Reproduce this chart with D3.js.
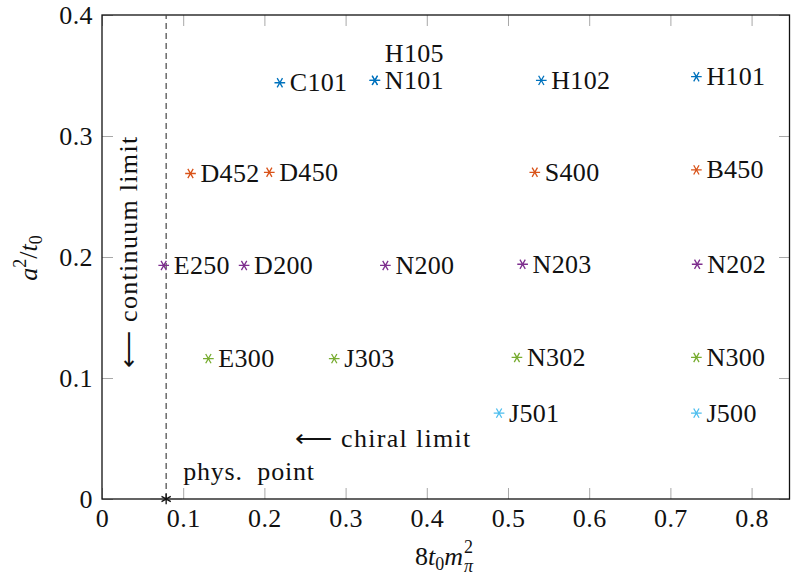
<!DOCTYPE html>
<html>
<head>
<meta charset="utf-8">
<script src="https://cdn.jsdelivr.net/npm/d3@7"></script>
<style>
  body { margin: 0; background: #fff; }
</style>
</head>
<body>
<svg id="chart"></svg>
<script>
// ensembles, grouped by lattice spacing
const ensembles = ["C101", "N101", "H105", "H102", "H101",
                   "D452", "D450", "S400", "B450",
                   "E250", "D200", "N200", "N203", "N202",
                   "E300", "J303", "N302", "N300",
                   "J501", "J500"];
const mpiSq = [0.219, 0.336, 0.336, 0.541, 0.732,
               0.109, 0.206, 0.533, 0.732,
               0.076, 0.175, 0.349, 0.518, 0.733,
               0.131, 0.286, 0.511, 0.732,
               0.489, 0.732];
const aSq = [0.344, 0.346, 0.346, 0.346, 0.349,
             0.269, 0.270, 0.270, 0.272,
             0.193, 0.193, 0.193, 0.194, 0.194,
             0.116, 0.116, 0.117, 0.117,
             0.071, 0.071];
const group = [0, 0, 0, 0, 0,
               1, 1, 1, 1,
               2, 2, 2, 2, 2,
               3, 3, 3, 3,
               4, 4];
const groupColors = ["#0072BD", "#D95319", "#7E2F8E", "#77AC30", "#4DBEEE"];

// physical point
const physX = 0.079, physY = 0, physXErr = 0.0195;

const xTicks = [0, 0.1, 0.2, 0.3, 0.4, 0.5, 0.6, 0.7, 0.8];
const yTicks = [0, 0.1, 0.2, 0.3, 0.4];

const width = 791, height = 581;
const margin = { top: 15, right: 1, bottom: 82, left: 102 };
const fs = 26;
const serif = "'Liberation Serif', 'Times New Roman', serif";

const svg = d3.select("#chart")
    .attr("width", width)
    .attr("height", height)
    .style("font-family", serif);

const xScale = d3.scaleLinear()
    .domain([0, 0.8473])
    .range([margin.left, width - margin.right]);
const yScale = d3.scaleLinear()
    .domain([0, 0.4])
    .range([height - margin.bottom, margin.top]);

const fmt = d => d === 0 ? "0" : d3.format(".1f")(d);
const tickCol = "#a8a8a8";

//bottom axis with labels
const gx = svg.append("g")
    .attr("transform", `translate(0,${yScale(0)})`)
    .call(d3.axisBottom(xScale).tickValues(xTicks).tickSize(-11).tickPadding(10).tickFormat(fmt));
//top axis, ticks only
const gxt = svg.append("g")
    .attr("transform", `translate(0,${yScale(0.4)})`)
    .call(d3.axisTop(xScale).tickValues(xTicks).tickSize(-11).tickFormat(""));
//left axis with labels
const gy = svg.append("g")
    .attr("transform", `translate(${xScale(0)},0)`)
    .call(d3.axisLeft(yScale).tickValues(yTicks).tickSize(-11).tickPadding(9).tickFormat(fmt));
//right axis, ticks only
const gyr = svg.append("g")
    .attr("transform", `translate(${xScale.range()[1]},0)`)
    .call(d3.axisRight(yScale).tickValues(yTicks).tickSize(-11).tickFormat(""));

[gx, gxt, gy, gyr].forEach(g => {
    g.attr("font-family", null);
    g.select(".domain").remove();
    g.selectAll(".tick line").attr("stroke", tickCol).attr("stroke-width", 1);
    g.selectAll(".tick text")
        .style("font-family", serif)
        .attr("font-size", fs)
        .attr("letter-spacing", 0.4)
        .attr("fill", "#111");
});

//frame
svg.append("rect")
    .attr("x", xScale(0))
    .attr("y", yScale(0.4))
    .attr("width", xScale.range()[1] - xScale(0) - 0.5)
    .attr("height", yScale(0) - yScale(0.4))
    .attr("fill", "none")
    .attr("stroke", "#111")
    .attr("stroke-width", 1.3);

//phys point dashed line
svg.append("line")
    .attr("x1", xScale(physX)).attr("x2", xScale(physX))
    .attr("y1", yScale(0)).attr("y2", yScale(0.4))
    .attr("stroke", "#444")
    .attr("stroke-width", 1.2)
    .attr("stroke-dasharray", "6,4");

const star = d3.symbol(d3.symbolAsterisk, 80);

//data points
const pts = svg.append("g");
ensembles.forEach((name, i) => {
    const px = xScale(mpiSq[i]), py = yScale(aSq[i]);
    pts.append("path")
        .attr("d", star())
        .attr("transform", `translate(${px},${py}) rotate(90)`)
        .attr("fill", "none")
        .attr("stroke", groupColors[group[i]])
        .attr("stroke-width", 1.3);
    pts.append("text")
        .attr("x", px + 10)
        .attr("y", name === "H105" ? py - 18 : py + 8.5)
        .attr("font-size", fs)
        .attr("letter-spacing", 0.3)
        .attr("fill", "#111")
        .text(name);
});

//phys point with x error
svg.append("line")
    .attr("x1", xScale(physX - physXErr)).attr("x2", xScale(physX + physXErr))
    .attr("y1", yScale(physY)).attr("y2", yScale(physY))
    .attr("stroke", "#555").attr("stroke-width", 1.2);
svg.append("path")
    .attr("d", star())
    .attr("transform", `translate(${xScale(physX)},${yScale(physY)})`)
    .attr("fill", "none")
    .attr("stroke", "#111")
    .attr("stroke-width", 1.3);
svg.append("text")
    .attr("x", xScale(physX) + 17)
    .attr("y", yScale(physY) - 19)
    .attr("font-size", fs)
    .attr("letter-spacing", 0.8)
    .attr("fill", "#111")
    .text("phys.\u00a0 point");

//annotations
svg.append("text")
    .attr("x", 295).attr("y", 447)
    .attr("font-size", fs)
    .attr("letter-spacing", 1.3)
    .attr("fill", "#111")
    .text("\u27f5 chiral limit");
svg.append("text")
    .attr("transform", "translate(137,368) rotate(-90)")
    .attr("font-size", fs)
    .attr("letter-spacing", 1.3)
    .attr("fill", "#111")
    .text("\u27f5 continuum limit");

//x axis label: 8 t_0 m_pi^2
const xl = svg.append("text")
    .attr("x", 415).attr("y", 565)
    .attr("font-size", fs)
    .attr("fill", "#111");
xl.append("tspan").text("8");
xl.append("tspan").attr("font-style", "italic").text("t");
xl.append("tspan").attr("font-size", 18).attr("dy", 5).text("0");
xl.append("tspan").attr("font-style", "italic").attr("dy", -5).text("m");
const xlEnd = 415 + xl.node().getComputedTextLength() + 1;
svg.append("text")
    .attr("x", xlEnd).attr("y", 553)
    .attr("font-size", 18)
    .attr("fill", "#111")
    .text("2");
svg.append("text")
    .attr("x", xlEnd).attr("y", 572)
    .attr("font-size", 18)
    .attr("font-style", "italic")
    .attr("fill", "#111")
    .text("\u03c0");

//y axis label: a^2 / t_0
const yl = svg.append("text")
    .attr("transform", "translate(37,258) rotate(-90)")
    .attr("text-anchor", "middle")
    .attr("font-size", fs)
    .attr("fill", "#111");
yl.append("tspan").attr("font-style", "italic").text("a");
yl.append("tspan").attr("font-size", 18).attr("dy", -11).text("2");
yl.append("tspan").attr("dy", 11).text("/");
yl.append("tspan").attr("font-style", "italic").text("t");
yl.append("tspan").attr("font-size", 18).attr("dy", 5).text("0");
</script>
</body>
</html>
